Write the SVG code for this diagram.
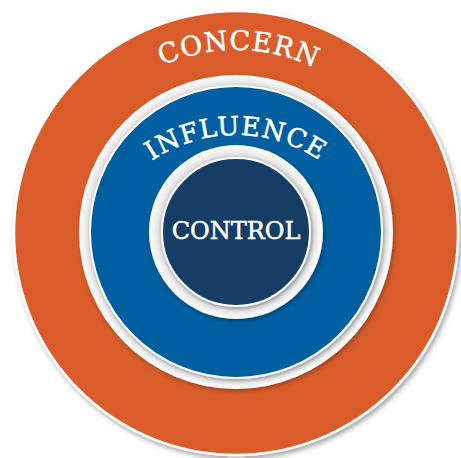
<svg xmlns="http://www.w3.org/2000/svg" width="461" height="458" viewBox="0 0 461 458">
<defs>
<filter id="shadow" x="-10%" y="-10%" width="125%" height="125%">
<feDropShadow dx="2" dy="3" stdDeviation="2.5" flood-color="#000" flood-opacity="0.35"/>
</filter>
<filter id="soft" x="-10%" y="-10%" width="125%" height="125%">
<feDropShadow dx="1.5" dy="2" stdDeviation="2" flood-color="#000" flood-opacity="0.3"/>
</filter>
<radialGradient id="ringBig" cx="0.5" cy="0.5" r="0.5">
<stop offset="0.9" stop-color="#b9b9b9"/>
<stop offset="0.95" stop-color="#e6e6e6"/>
<stop offset="1" stop-color="#ffffff"/>
</radialGradient>
<radialGradient id="ringSmall" cx="0.5" cy="0.5" r="0.5">
<stop offset="0.82" stop-color="#b9b9b9"/>
<stop offset="0.9" stop-color="#e6e6e6"/>
<stop offset="1" stop-color="#ffffff"/>
</radialGradient>
<path id="concernArc" d="M 53,233 A 183 183 0 0 1 419,233"/>
<path id="influenceArc" d="M 86,285 A 150 150 0 0 1 386,285"/>
</defs>
<style>
.lbl{fill:#ffffff;stroke:#ffffff;stroke-width:0.5;font-family:"DejaVu Serif","Liberation Serif",serif;}
</style>
<g id="concern">
<circle cx="236" cy="233" r="222" fill="#D95B2A" stroke="#ffffff" stroke-width="2.5" filter="url(#shadow)"/>
<text class="lbl" font-size="27" letter-spacing="1"><textPath href="#concernArc" startOffset="50.5%" text-anchor="middle">CONCERN</textPath></text>
</g>
<g id="influence">
<circle cx="236" cy="232" r="157" fill="url(#ringBig)" filter="url(#soft)"/>
<circle cx="236" cy="232" r="146" fill="#045EA0" stroke="#ffffff" stroke-width="2" filter="url(#soft)"/>
<text class="lbl" font-size="26" letter-spacing="1"><textPath href="#influenceArc" startOffset="50%" text-anchor="middle">INFLUENCE</textPath></text>
</g>
<g id="control">
<circle cx="236" cy="232" r="87" fill="url(#ringSmall)" filter="url(#soft)"/>
<circle cx="236" cy="232" r="74" fill="#123E65" stroke="#ffffff" stroke-width="2" filter="url(#soft)"/>
<text class="lbl" x="236" y="239" font-size="24" text-anchor="middle">CONTROL</text>
</g>
<g id="connectors"/>
</svg>
